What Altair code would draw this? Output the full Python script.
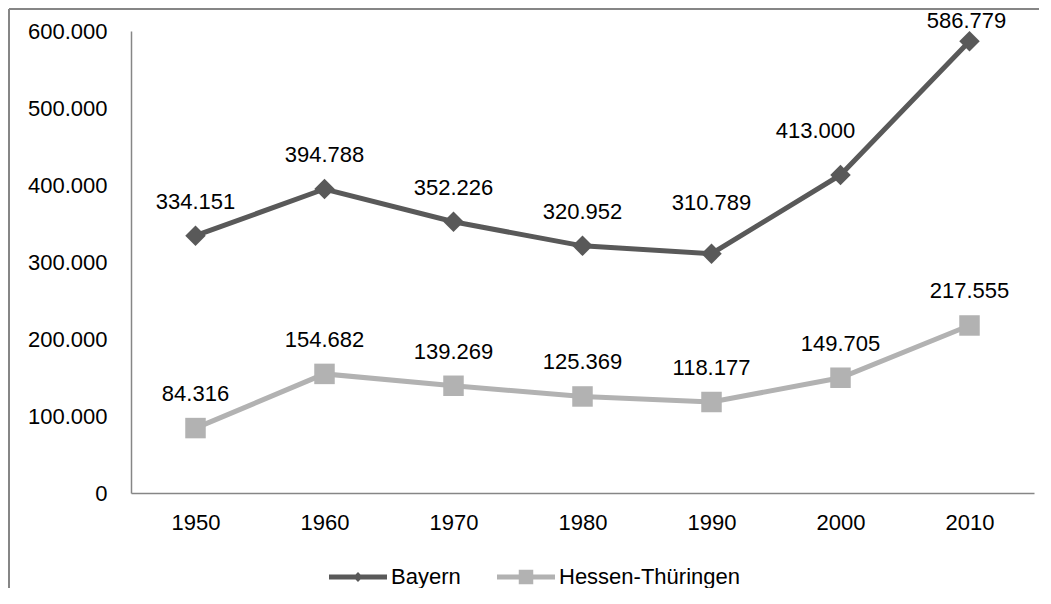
import altair as alt
import pandas as pd

years = ["1950", "1960", "1970", "1980", "1990", "2000", "2010"]
bayern = [334151, 394788, 352226, 320952, 310789, 413000, 586779]
hessen = [84316, 154682, 139269, 125369, 118177, 149705, 217555]
series = ["Bayern", "Hessen-Thüringen"]
colors = ["#595959", "#b2b2b2"]
shapes = ["diamond", "square"]
y_ticks = [0, 100000, 200000, 300000, 400000, 500000, 600000]

default_offset = (0, -34)
special_offsets = {
    ("Bayern", "1990"): (0, -51),
    ("Bayern", "2000"): (-25, -44),
    ("Bayern", "2010"): (-3, -20),
}

rows = []
for s, vals in zip(series, [bayern, hessen]):
    for yr, v in zip(years, vals):
        rows.append({"year": yr, "value": v, "series": s,
                     "label": f"{v:,}".replace(",", ".")})
df = pd.DataFrame(rows)

FONT = "Liberation Sans"
FS = 22
x_enc = alt.X("year:O", scale=alt.Scale(type="point", padding=0.5),
              axis=alt.Axis(title=None, labelAngle=0, ticks=False, tickSize=0,
                            labelPadding=19, labelFontSize=FS, labelFont=FONT,
                            labelColor="#000000", domainColor="#868686",
                            domainWidth=1.5, grid=False))
y_enc = alt.Y("value:Q", scale=alt.Scale(domain=[0, 600000], nice=False),
              axis=alt.Axis(title=None, values=y_ticks, ticks=False, tickSize=0,
                            labelPadding=24, labelFontSize=FS, labelFont=FONT,
                            labelColor="#000000", domainColor="#868686",
                            domainWidth=1.5, grid=False,
                            labelExpr="replace(format(datum.value, ','), ',', '.')"))

bayern_path = "M-1,-0.09H1V0.09H-1Z M0,-0.17L0.17,0L0,0.17L-0.17,0Z"
hessen_path = "M-1,-0.09H1V0.09H-1Z M-0.25,-0.25H0.25V0.25H-0.25Z"

legend = alt.Legend(
    title=None, orient="none", legendX=198, legendY=517, direction="horizontal",
    labelFontSize=FS, labelFont=FONT, labelColor="#000000", labelOffset=4,
    labelLimit=400, columnPadding=36, symbolSize=3364, padding=0,
    symbolStrokeWidth=0, symbolOpacity=1)

base = alt.Chart(df)
layers = []
for s, c, sh in zip(series, colors, shapes):
    sub = base.transform_filter(alt.datum.series == s)
    layers.append(sub.mark_line(strokeWidth=5, color=c).encode(x=x_enc, y=y_enc))
for s, c, sh in zip(series, colors, shapes):
    sub = base.transform_filter(alt.datum.series == s)
    layers.append(sub.mark_point(filled=True, size=420, opacity=1, shape=sh,
                                 color=c).encode(x=x_enc, y=y_enc))

# invisible layer that only provides the legend (line + marker symbols)
legend_layer = base.mark_point(filled=True, size=1, opacity=0).encode(
    x=x_enc, y=y_enc,
    color=alt.Color("series:N", scale=alt.Scale(domain=series, range=colors),
                    legend=legend),
    shape=alt.Shape("series:N", scale=alt.Scale(domain=series,
                                                range=[bayern_path, hessen_path]),
                    legend=legend))
layers.append(legend_layer)

special_expr = " || ".join(
    f"(datum.series === '{s}' && datum.year === '{y}')" for (s, y) in special_offsets)
layers.append(base.transform_filter(f"!({special_expr})").mark_text(
    dx=default_offset[0], dy=default_offset[1], fontSize=FS, font=FONT,
    color="#000000").encode(x=x_enc, y=y_enc, text="label:N"))
for (s, y), (dx, dy) in special_offsets.items():
    layers.append(
        base.transform_filter(f"datum.series === '{s}' && datum.year === '{y}'")
        .mark_text(dx=dx, dy=dy, fontSize=FS, font=FONT, color="#000000")
        .encode(x=x_enc, y=y_enc, text="label:N"))

border_df = pd.DataFrame({"a": [0]})
bc = "#868686"
borders = [
    alt.Chart(border_df).mark_rule(color=bc, strokeWidth=2).encode(x=alt.value(-122)),
    alt.Chart(border_df).mark_rule(color=bc, strokeWidth=2).encode(
        x=alt.value(-122), y2=alt.value(-22)),
    alt.Chart(border_df).mark_rule(color=bc, strokeWidth=2).encode(
        x=alt.value(-122), y2=alt.value(600)),
    alt.Chart(border_df).mark_rule(color=bc, strokeWidth=2).encode(y=alt.value(-22)),
    alt.Chart(border_df).mark_rule(color=bc, strokeWidth=2).encode(
        y=alt.value(-22), x2=alt.value(-122)),
    alt.Chart(border_df).mark_rule(color=bc, strokeWidth=2).encode(
        y=alt.value(-22), x2=alt.value(940)),
]

chart = alt.layer(*borders, *layers).properties(
    width=903, height=462,
    autosize=alt.AutoSizeParams(type="none"),
    padding={"left": 123, "top": 23, "right": 5, "bottom": 95},
).configure_view(strokeWidth=0, stroke="transparent")

chart.save("out.html", embed_options={"renderer": "svg", "actions": False})
